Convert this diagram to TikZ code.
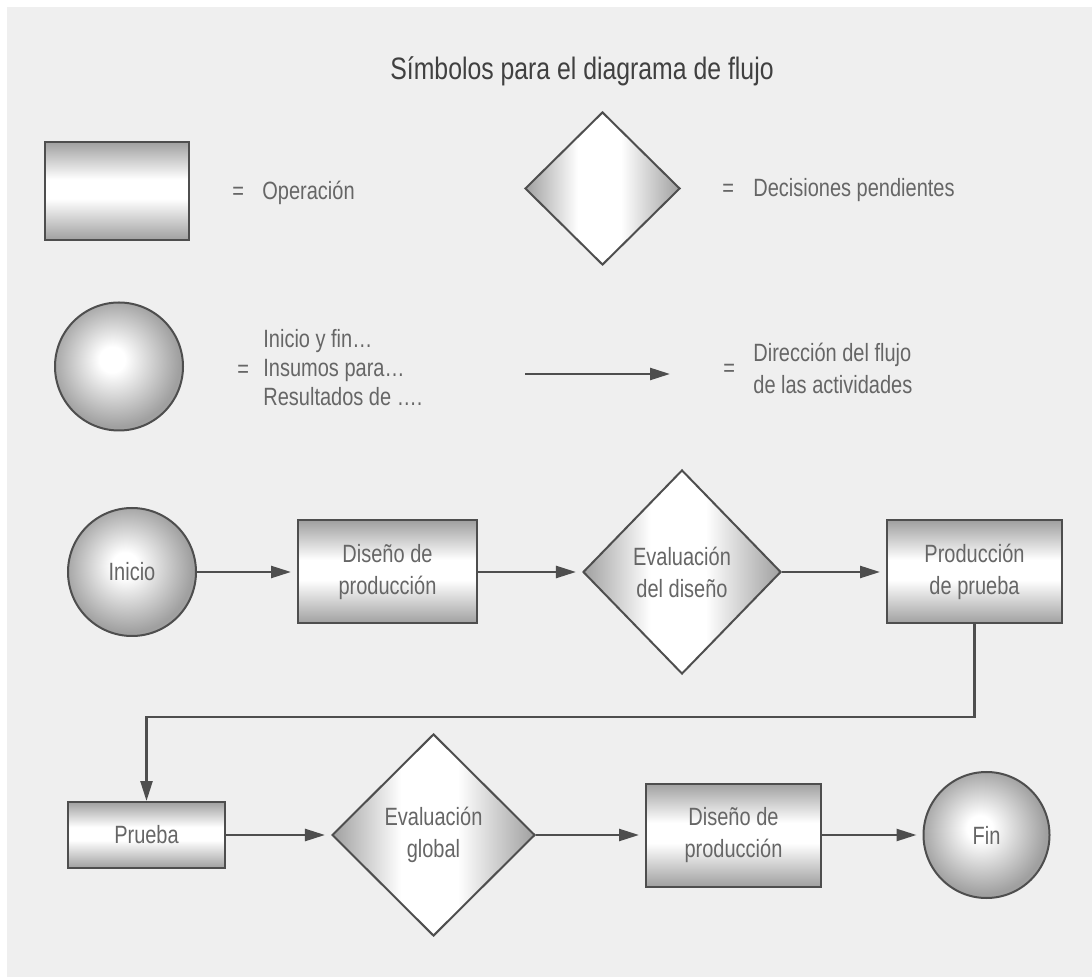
\documentclass[tikz,border=0pt]{standalone}
\usepackage{fontspec}
\setmainfont{Liberation Sans}[FakeStretch=0.8]
\usepackage{tikz}
\usetikzlibrary{shapes.geometric}
\usetikzlibrary{arrows.meta}
\definecolor{fondo}{RGB}{239,239,239}
\definecolor{borde}{RGB}{78,78,78}
\definecolor{texto}{RGB}{102,102,102}
\definecolor{titulo}{RGB}{64,64,64}
\definecolor{sombra}{RGB}{160,160,160}
\pgfdeclareverticalshading{barra}{100bp}{color(0bp)=(sombra); color(25bp)=(sombra); color(46bp)=(white); color(56bp)=(white); color(75bp)=(sombra); color(100bp)=(sombra)}
\pgfdeclarehorizontalshading{rombo}{100bp}{color(0bp)=(sombra); color(25bp)=(sombra); color(42bp)=(white); color(56bp)=(white); color(75bp)=(sombra); color(100bp)=(sombra)}
\pgfdeclareradialshading{bola}{\pgfpoint{-3bp}{3bp}}{color(0bp)=(white); color(5bp)=(white); color(25bp)=(sombra); color(50bp)=(sombra)}
\newcommand{\letranodo}{\fontsize{12.5}{16}\selectfont}
\newcommand{\letraleyenda}{\fontsize{12.5}{14.5}\selectfont}
\tikzset{
    common/.style={draw=borde, line width=1pt, text=texto, align=center, inner sep=0pt, font=\letranodo},
    operacion/.style={common, rectangle, shading=barra},
    decision/.style={common, diamond, aspect=1, shading=rombo},
    terminal/.style={common, circle, shading=bola},
    flujo/.style={draw=borde, line width=1.2pt, -{Triangle[length=10pt, width=6pt]}, shorten >=3pt},
    leyenda/.style={text=texto, font=\letraleyenda, inner sep=0pt, align=left},
    igual/.style={leyenda, anchor=west}
}
\begin{document}
\begin{tikzpicture}[x=0.5pt, y=-0.5pt]
    \useasboundingbox (0,0) rectangle (1092,977);
    \fill[white] (0,0) rectangle (1092,977);
    \fill[fondo] (7,7) rectangle (1092,977);

    \node[anchor=base, text=titulo, font=\fontsize{15.5}{18}\selectfont] (titulo) at (582,80)
        {Símbolos para el diagrama de flujo};

    \node[operacion, minimum width=72pt, minimum height=49pt] (sim-op) at (117,191) {};
    \node[igual] (eq-op) at (232,193) {=};
    \node[leyenda, anchor=west] (txt-op) at (262,193) {Operación};

    \node[decision, minimum width=77.5pt, minimum height=76.5pt] (sim-dec) at (602.5,188.5) {};
    \node[igual] (eq-dec) at (722,190) {=};
    \node[leyenda, anchor=west] (txt-dec) at (753,190) {Decisiones pendientes};

    \node[terminal, minimum size=64pt] (sim-ter) at (119,366.5) {};
    \node[igual] (eq-ter) at (237,371) {=};
    \node[leyenda, anchor=west] (txt-ter) at (263,368)
        {Inicio y fin\ldots\\Insumos para\ldots\\Resultados de \ldots.};

    \coordinate (dir-a) at (525,374);
    \coordinate (dir-b) at (670,374);
    \draw[flujo, shorten >=0pt] (dir-a) -- (dir-b);
    \node[igual] (eq-dir) at (723,370) {=};
    \node[leyenda, anchor=west, font=\fontsize{12.5}{16}\selectfont] (txt-dir) at (753,368)
        {Dirección del flujo\\de las actividades};

    \path (132,572) node[terminal, minimum size=64pt] (inicio) {Inicio}
        ++(255.5,0) node[operacion, minimum width=89.5pt, minimum height=51.5pt] (diseno-1) {Diseño de\\producción}
        ++(294.5,0) node[decision, minimum width=99pt, minimum height=102pt] (eval-diseno) {Evaluación\\del diseño}
        ++(292.5,0) node[operacion, minimum width=87.5pt, minimum height=51.5pt] (prod-prueba) {Producción\\de prueba};

    \path (146.5,835) node[operacion, minimum width=78.5pt, minimum height=33pt] (prueba) {Prueba}
        ++(287,0) node[decision, minimum width=101.5pt, minimum height=101pt] (eval-global) {Evaluación\\global}
        ++(300,0) node[operacion, minimum width=87.5pt, minimum height=51.5pt] (diseno-2) {Diseño de\\producción}
        ++(253,0) node[terminal, minimum size=63pt] (fin) {Fin};

    \coordinate (giro) at (146.5,717);

    \draw[flujo] (inicio) -- (diseno-1);
    \draw[flujo] (diseno-1) -- (eval-diseno);
    \draw[flujo] (eval-diseno) -- (prod-prueba);
    \draw[flujo, shorten >=0pt] (prod-prueba.south) |- (giro) -- (prueba.north);
    \draw[flujo] (prueba) -- (eval-global);
    \draw[flujo] (eval-global) -- (diseno-2);
    \draw[flujo] (diseno-2) -- (fin);
\end{tikzpicture}
\end{document}
